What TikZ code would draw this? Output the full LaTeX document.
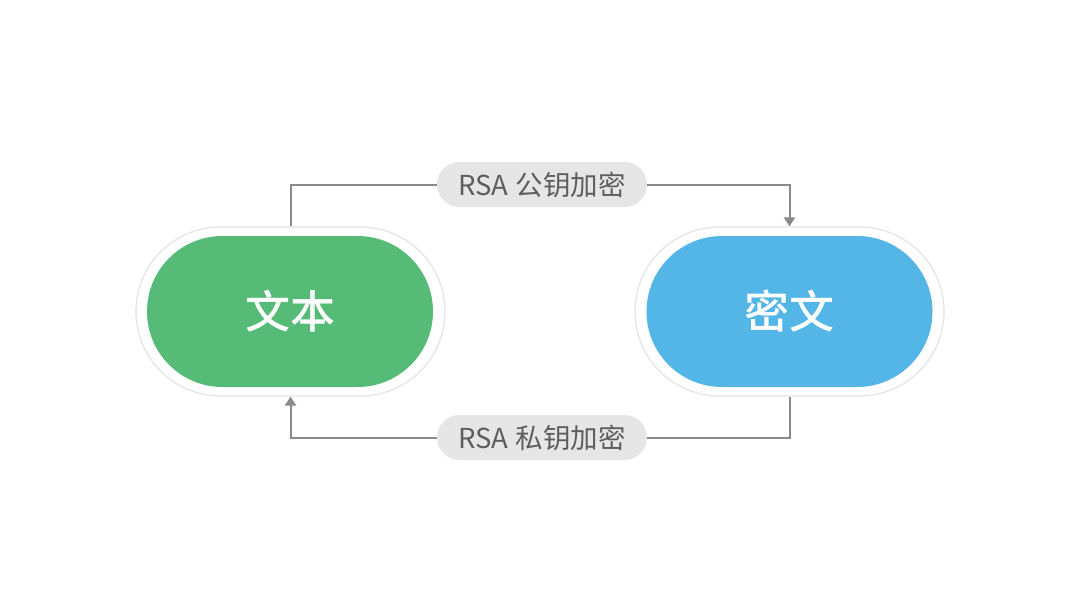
\documentclass[tikz,border=0pt]{standalone}
\usepackage{fontspec}
\setmainfont{Noto Sans CJK SC}
\newfontfamily\cjkmed{Noto Sans CJK SC Medium}
\usetikzlibrary{arrows.meta}
\definecolor{pgreen}{HTML}{57BB78}
\definecolor{pblue}{HTML}{53B6E7}
\definecolor{ringgray}{HTML}{E4E4E4}
\definecolor{labelgray}{HTML}{E6E6E6}
\definecolor{linegray}{HTML}{8A8A8A}
\definecolor{textgray}{HTML}{5E5E5E}
\tikzset{
  ring/.style={draw=ringgray, line width=1.2pt, fill=white, minimum width=309pt, minimum height=169pt, rounded corners=84.5pt, inner sep=0pt},
  core/.style={minimum width=286pt, minimum height=151pt, rounded corners=75.5pt, inner sep=0pt, text=white, font=\cjkmed\fontsize{45}{48}\selectfont},
  tag/.style={fill=labelgray, minimum width=210pt, minimum height=45pt, rounded corners=22.5pt, inner sep=0pt, text=textgray, font=\fontsize{27.5}{30}\selectfont},
  link/.style={draw=linegray, line width=2pt},
  tip/.style={-{Triangle[length=9pt,width=11pt]}}
}
\begin{document}
\begin{tikzpicture}[x=1pt,y=-1pt]
\path[use as bounding box, fill=white] (0,0) rectangle (1080,608);
\node[ring] (go) at (290.5,311.5) {};
\node[ring] (bo) at (789.5,311.5) {};
\node[core, fill=pgreen] (g) at (290,311.5) {文本};
\node[core, fill=pblue] (b) at (789.5,311.5) {密文};
\node[tag] (t1) at (542,184.5) {RSA\hspace{7pt}公钥加密};
\node[tag] (t2) at (542,437.5) {RSA\hspace{7pt}私钥加密};
\draw[link] (go.north) |- (t1.west);
\draw[link, tip] (t1.east) -| (bo.north);
\draw[link] (bo.south) |- (t2.east);
\draw[link, tip] (t2.west) -| (go.south);
\end{tikzpicture}
\end{document}
